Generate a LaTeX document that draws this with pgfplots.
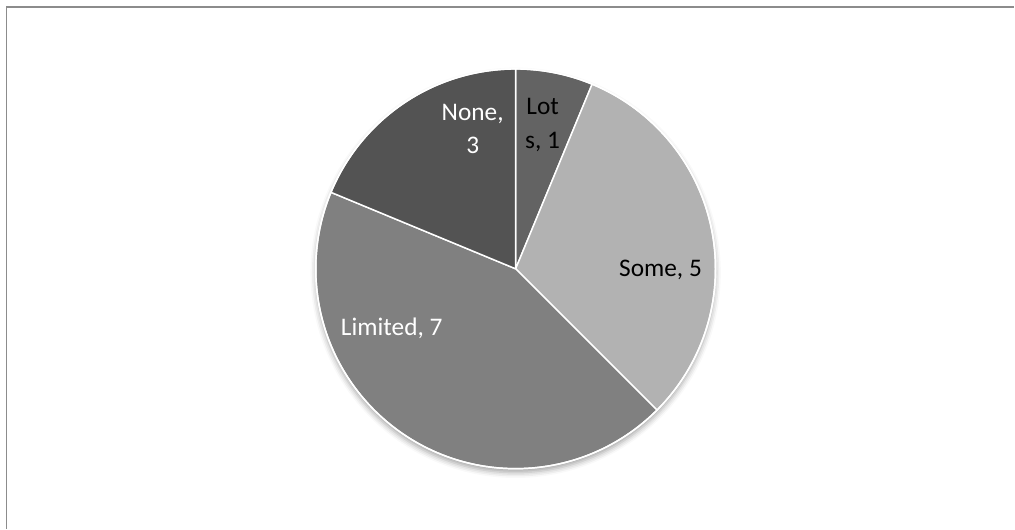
\documentclass[border=0pt]{standalone}
\usepackage{pgfplots}
\pgfplotsset{compat=1.18}
\usepackage{pgfplotstable}
\usepackage{fontspec}
\setmainfont{Carlito}
\usetikzlibrary{shadows.blur}

\definecolor{lotsc}{RGB}{99,99,99}
\definecolor{somec}{RGB}{178,178,178}
\definecolor{limc}{RGB}{128,128,128}
\definecolor{nonec}{RGB}{83,83,83}
\definecolor{framec}{RGB}{140,140,140}

% answers per category
\pgfplotstableread{
label   value
Lots    1
Some    5
Limited 7
None    3
}\piedata

% total and slice angles (clockwise from 12 o'clock)
\def\pietotal{0}
\pgfplotsforeachungrouped \i in {0,...,3}{%
  \pgfplotstablegetelem{\i}{value}\of\piedata
  \pgfmathsetmacro\pietotal{\pietotal+\pgfplotsretval}%
}
\def\cur{90}
\pgfplotsforeachungrouped \i in {0,...,3}{%
  \pgfplotstablegetelem{\i}{value}\of\piedata
  \pgfmathsetmacro\nxt{\cur-\pgfplotsretval/\pietotal*360}%
  \expandafter\xdef\csname pieStart\i\endcsname{\cur}%
  \expandafter\xdef\csname pieEnd\i\endcsname{\nxt}%
  \global\let\cur\nxt
}

\newcommand\pieslice[2]{%
  \fill[#2, draw=white, line width=1.1pt, line join=round]
    (axis cs:516,260)
    -- ([shift={(\csname pieStart#1\endcsname:150pt)}]axis cs:516,260)
    arc[start angle=\csname pieStart#1\endcsname,
        end angle=\csname pieEnd#1\endcsname, radius=150pt]
    -- cycle;}

\tikzset{pielabel/.style={font=\fontsize{19}{25}\selectfont, align=center, inner sep=0pt}}

\begin{document}
\begin{tikzpicture}
\begin{axis}[
  hide axis, scale only axis, clip=false,
  x=0.75pt, y=0.75pt,
  xmin=0, xmax=1015, ymin=0, ymax=529,
]
  \path (axis cs:0,0) rectangle (axis cs:1015,529);
  % chart frame (left and top edges)
  \draw[framec, line width=1.1pt] (axis cs:6.5,0) -- (axis cs:6.5,522) -- (axis cs:1015,522);
  % shadow under the pie
  \fill[white, blur shadow={shadow xshift=0pt, shadow yshift=-3pt,
        shadow blur radius=4pt, shadow opacity=35}]
    (axis cs:516,260) circle[radius=150pt];
  \pieslice{0}{lotsc}
  \pieslice{1}{somec}
  \pieslice{2}{limc}
  \pieslice{3}{nonec}
  \draw[white, line width=1.1pt] (axis cs:516,260) circle[radius=150pt];
  % data labels
  \node[pielabel, text=black] at (axis cs:543,404) {Lot\\s, 1};
  \node[pielabel, text=white] at (axis cs:473,400) {None,\\3};
  \node[pielabel, text=black] at (axis cs:661,259) {Some, 5};
  \node[pielabel, text=white] at (axis cs:392,200) {Limited, 7};
\end{axis}
\end{tikzpicture}
\end{document}
